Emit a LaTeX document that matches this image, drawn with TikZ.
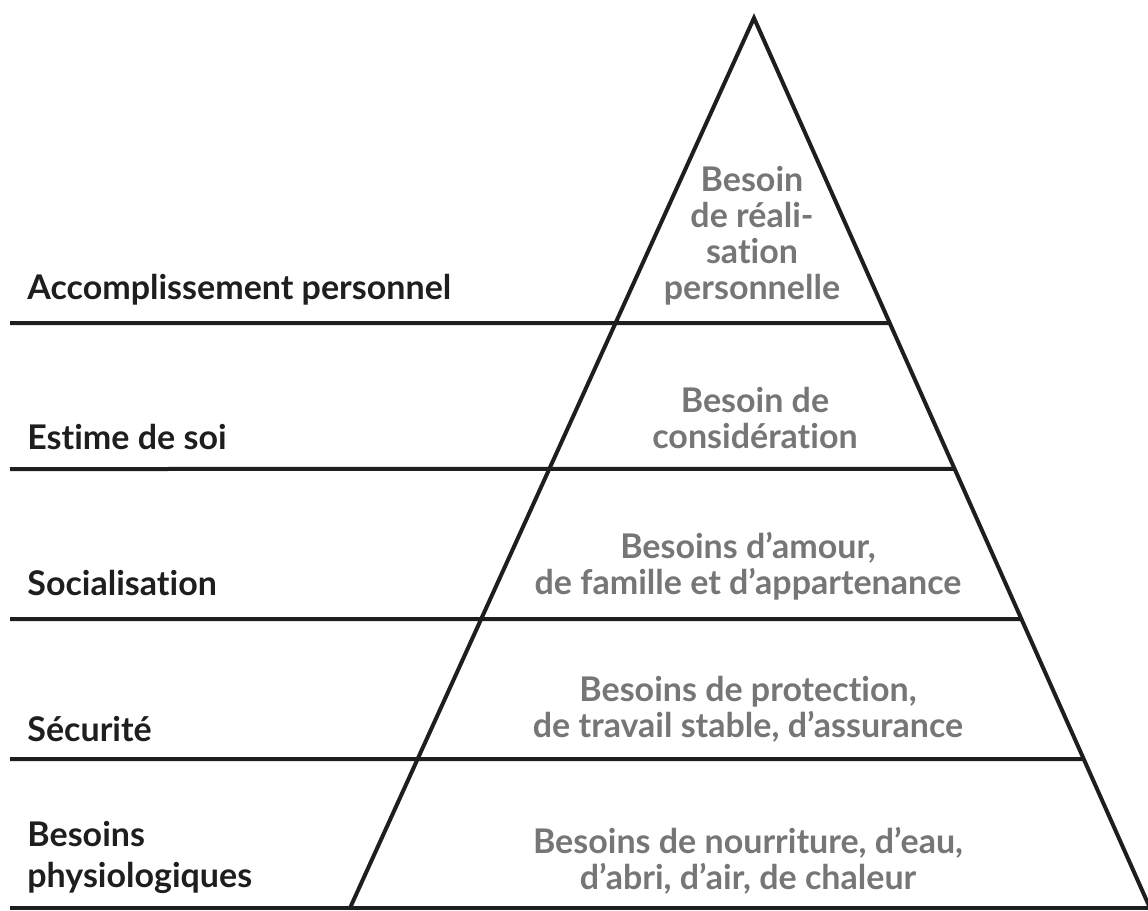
\documentclass[tikz,border=0pt]{standalone}
\usepackage{fontspec}
\setmainfont{Lato}[Ligatures=NoCommon]
\usetikzlibrary{calc}

\definecolor{needgray}{RGB}{118,118,118}
\definecolor{inkblack}{RGB}{30,30,30}

\tikzset{
  lbl/.style={anchor=west, inner sep=0pt, align=left, text=inkblack,
    font=\bfseries\fontsize{17}{20.5}\selectfont},
  need/.style={inner sep=0pt, align=center, text=needgray,
    font=\bfseries\fontsize{17}{18}\selectfont},
  bar/.style={line width=2pt, draw=inkblack}
}

\begin{document}
\begin{tikzpicture}[x=0.5pt, y=-0.5pt]
  \useasboundingbox (0,0) rectangle (1148,911);

  % pyramid corners
  \coordinate (top) at (754,18);
  \coordinate (left) at (350,908);
  \coordinate (right) at (1150,908);

  \draw [bar, line join=miter] (left) -- (top) -- (right);
  \draw [bar] (10,908) -- (right);

  % level separators
  \coordinate (s1) at (10,323);
  \coordinate (s2) at (10,469);
  \coordinate (s3) at (10,619);
  \coordinate (s4) at (10,759);
  \draw [bar] (s1) -- ($(top)!0.3427!(right)$);
  \draw [bar] (s2) -- ($(top)!0.5067!(right)$);
  \draw [bar] (s3) -- ($(top)!0.6753!(right)$);
  \draw [bar] (s4) -- ($(top)!0.8326!(right)$);

  % level names
  \node (l1)[lbl] at (27,290) {Accomplissement personnel};
  \node (l2)[lbl] at (27,437) {Estime de soi};
  \node (l3)[lbl] at (27,583) {Socialisation};
  \node (l4)[lbl] at (27,729) {Sécurité};
  \node (l5)[lbl] at (27,857) {Besoins\\physiologiques};

  % needs inside the pyramid
  \node (n1)[need] at (752,236) {Besoin\\de réali-\\sation\\personnelle};
  \node (n2)[need] at (755,418) {Besoin de\\considération};
  \node (n3)[need] at (748,566) {Besoins d’amour,\\de famille et d’appartenance};
  \node (n4)[need] at (748,709) {Besoins de protection,\\de travail stable, d’assurance};
  \node (n5)[need] at (748,861) {Besoins de nourriture, d’eau,\\d’abri, d’air, de chaleur};
\end{tikzpicture}
\end{document}
